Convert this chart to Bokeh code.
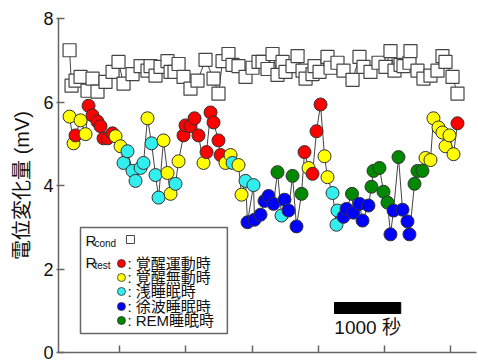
from bokeh.plotting import figure
from bokeh.models import Range1d, FixedTicker, ColumnDataSource, Label
from bokeh.core.properties import value
from bokeh.embed import file_html
from bokeh.resources import INLINE

# ---------------- data ----------------
state_keys = ["R", "Y", "C", "B", "G"]
state_labels = ["覚醒運動時", "覚醒無動時", "浅睡眠時", "徐波睡眠時", "REM睡眠時"]
state_colors = ["#ff0000", "#ffff00", "#33eeee", "#0000ff", "#008800"]

# R_test: time (s), amplitude (mV), state
test_time = [245, 305, 335, 411, 486, 532, 592, 667, 713, 758,
             818, 894, 939, 1015, 1060, 1120, 1196, 1241, 1317, 1362,
             1422, 1483, 1543, 1589, 1664, 1724, 1770, 1845, 1891, 1966,
             1996, 2071, 2132, 2192, 2268, 2313, 2374, 2419, 2494, 2525,
             2600, 2676, 2706, 2796, 2842, 2902, 2932, 3023, 3038, 3129,
             3189, 3250, 3325, 3385, 3446, 3491, 3552, 3612, 3672, 3748,
             3793, 3854, 3914, 3974, 4035, 4095, 4140, 4216, 4276, 4291,
             4382, 4427, 4510, 4530, 4623, 4669, 4759, 4804, 4835, 4925,
             4986, 5046, 5091, 5137, 5212, 5273, 5348, 5378, 5454, 5499,
             5574, 5620, 5695, 5740, 5816, 5876, 5922, 5982, 6043, 6103]
test_mv = [5.65, 5.01, 5.20, 5.56, 5.23, 5.91, 5.68, 5.53, 5.42, 5.13,
           5.13, 5.25, 5.18, 4.94, 4.54, 4.82, 4.35, 4.11, 4.42, 4.54,
           5.61, 5.01, 4.25, 3.71, 5.08, 4.30, 3.80, 4.04, 4.58, 5.20,
           5.44, 5.42, 5.61, 5.20, 4.54, 4.80, 5.75, 5.51, 5.08, 4.73,
           4.54, 4.73, 4.54, 4.49, 3.78, 4.11, 3.12, 4.01, 3.18, 3.30,
           3.63, 3.75, 3.56, 4.32, 3.28, 3.66, 3.40, 4.23, 3.02, 3.80,
           4.80, 4.42, 4.28, 5.30, 5.94, 4.70, 4.20, 3.82, 3.06, 3.40,
           3.25, 3.44, 3.80, 3.35, 3.56, 3.16, 3.52, 3.97, 4.35, 4.42,
           3.85, 3.59, 2.83, 3.40, 4.68, 3.42, 3.14, 2.83, 4.04, 4.35,
           4.35, 4.66, 4.61, 5.61, 5.39, 5.27, 4.94, 5.20, 4.75, 5.49]
test_state = ["Y", "Y", "R", "Y", "Y", "R", "R", "R", "R", "R",
              "R", "R", "Y", "Y", "C", "C", "C", "C", "C", "C",
              "Y", "C", "C", "C", "Y", "Y", "Y", "C", "Y", "R",
              "R", "R", "R", "R", "Y", "R", "R", "R", "R", "R",
              "Y", "Y", "C", "Y", "Y", "C", "B", "C", "B", "B",
              "B", "B", "B", "G", "C", "B", "B", "G", "B", "G",
              "R", "Y", "R", "R", "R", "Y", "Y", "C", "C", "C",
              "B", "B", "G", "B", "B", "B", "B", "G", "G", "G",
              "G", "G", "B", "B", "G", "B", "B", "B", "G", "G",
              "G", "Y", "Y", "Y", "Y", "Y", "Y", "Y", "Y", "R"]

# R_cond: time (s), amplitude (mV)
cond_time = [245, 275, 335, 411, 516, 592, 667, 788, 894, 984,
             1060, 1196, 1317, 1422, 1468, 1543, 1619, 1724, 1770, 1830,
             1891, 1966, 2071, 2177, 2298, 2419, 2494, 2555, 2645, 2706,
             2796, 2902, 3008, 3098, 3159, 3234, 3310, 3385, 3461, 3506,
             3612, 3688, 3763, 3809, 3914, 3944, 4020, 4140, 4186, 4291,
             4382, 4518, 4623, 4684, 4789, 4910, 5016, 5091, 5152, 5243,
             5288, 5378, 5393, 5499, 5589, 5695, 5801, 5876, 5922, 6028,
             6103]
cond_mv = [7.24, 6.39, 6.51, 6.60, 6.27, 6.56, 6.25, 6.48, 6.72, 6.96,
           6.44, 6.67, 6.86, 6.75, 6.86, 6.63, 6.84, 6.98, 6.72, 6.72,
           6.91, 6.60, 6.32, 6.51, 7.01, 6.56, 6.20, 6.98, 7.15, 6.89,
           6.86, 6.60, 6.82, 6.96, 6.96, 6.79, 7.15, 6.65, 6.96, 6.72,
           6.86, 7.10, 6.75, 6.56, 6.67, 6.86, 6.72, 7.08, 6.82, 6.94,
           6.75, 6.53, 7.08, 6.84, 6.72, 6.94, 6.84, 7.22, 6.75, 6.89,
           6.86, 6.94, 7.22, 6.75, 6.56, 6.63, 6.75, 7.10, 6.96, 6.60,
           6.20]

y_ticks = [0, 2, 4, 6, 8]
x_ticks = [1000, 2000, 3000, 4000, 5000, 6000]
scale_bar_start = 4246
scale_bar_seconds = 1000
scale_bar_label = "1000 秒"
y_label = "電位変化量 (mV)"

# ---------------- figure ----------------
FONT = "Liberation Sans, Noto Sans CJK JP"

p = figure(width=478, height=363,
           x_range=Range1d(78, 6390), y_range=Range1d(0, 8),
           output_backend="svg", toolbar_location=None,
           min_border_left=58, min_border_right=2,
           min_border_top=18, min_border_bottom=11)
p.outline_line_color = None
p.grid.visible = False
p.background_fill_color = "white"

# axes
p.yaxis.ticker = FixedTicker(ticks=y_ticks)
p.yaxis.axis_label = y_label
p.yaxis.axis_label_text_font = FONT
p.yaxis.axis_label_text_font_size = "20px"
p.yaxis.axis_label_text_font_style = "normal"
p.yaxis.axis_label_text_color = "#111111"
p.yaxis.axis_label_standoff = 7
p.yaxis.major_label_text_font = FONT
p.yaxis.major_label_text_font_size = "18px"
p.yaxis.major_label_text_color = "#111111"
p.yaxis.major_label_standoff = 3
p.yaxis.major_tick_in = 6
p.yaxis.major_tick_out = 2
p.yaxis.minor_tick_line_color = None

p.xaxis.ticker = FixedTicker(ticks=x_ticks)
p.xaxis.major_label_text_font_size = "0px"
p.xaxis.major_label_text_color = None
p.xaxis.major_label_standoff = 0
p.xaxis.major_tick_in = 7
p.xaxis.major_tick_out = 0
p.xaxis.minor_tick_line_color = None

for ax in (p.xaxis, p.yaxis):
    ax.axis_line_color = "#666666"
    ax.axis_line_width = 1.5
    ax.major_tick_line_color = "#666666"
    ax.major_tick_line_width = 1.5

# R_cond
cond_src = ColumnDataSource(dict(t=cond_time, v=cond_mv))
p.line("t", "v", source=cond_src, line_color="#444444", line_width=1)
p.scatter("t", "v", source=cond_src, marker="square", size=13,
          fill_color="white", line_color="#444444", line_width=1.2)

# R_test
color_of = dict(zip(state_keys, state_colors))
test_src = ColumnDataSource(dict(t=test_time, v=test_mv,
                                 c=[color_of[s] for s in test_state]))
p.line("t", "v", source=test_src, line_color="#444444", line_width=1)
p.scatter("t", "v", source=test_src, marker="circle", size=13,
          fill_color="c", line_color="#333333", line_width=1)

# ---------------- layout helpers (px -> data) ----------------
X0_PX, T0, KX = 58, 78, 15.09     # px -> seconds
Y0_PX, MY = 352, 41.75            # px -> mV


def tx(px):
    return T0 + (px - X0_PX) * KX


def vy(py):
    return (Y0_PX - py) / MY


# scale bar
p.quad(left=[scale_bar_start], right=[scale_bar_start + scale_bar_seconds],
       bottom=[vy(313)], top=[vy(302)], fill_color="black", line_color="black")
p.add_layout(Label(x=scale_bar_start + scale_bar_seconds / 2, y=vy(327),
                   text=scale_bar_label, text_align="center",
                   text_baseline="middle", text_font=FONT,
                   text_font_size="19px", text_color="#111111"))

# ---------------- legend (manual) ----------------
p.quad(left=[tx(80)], right=[tx(227)], bottom=[vy(333)], top=[vy(227)],
       fill_color="white", line_color="#666666", line_width=1.5)

p.add_layout(Label(x=tx(85), y=vy(240), text="R", text_baseline="middle",
                   text_font=FONT, text_font_size="15px", text_color="#111111"))
p.add_layout(Label(x=tx(94), y=vy(243), text="cond", text_baseline="middle",
                   text_font=FONT, text_font_size="10px", text_color="#111111"))
p.scatter([tx(130)], [vy(239)], marker="square", size=8,
          fill_color="white", line_color="#444444", line_width=1)

p.add_layout(Label(x=tx(85), y=vy(262), text="R", text_baseline="middle",
                   text_font=FONT, text_font_size="15px", text_color="#111111"))
p.add_layout(Label(x=tx(94), y=vy(265), text="test", text_baseline="middle",
                   text_font=FONT, text_font_size="10px", text_color="#111111"))

row_y = [263, 277, 291, 306, 320]
for lab, col, ry in zip(state_labels, state_colors, row_y):
    p.scatter([tx(121)], [vy(ry)], marker="circle", size=8,
              fill_color=col, line_color="#333333", line_width=0.8)
    p.add_layout(Label(x=tx(127), y=vy(ry), text=": " + lab,
                       text_baseline="middle", text_font=FONT,
                       text_font_size="15px", text_color="#111111"))

open("out.html", "w").write(file_html(p, INLINE))
